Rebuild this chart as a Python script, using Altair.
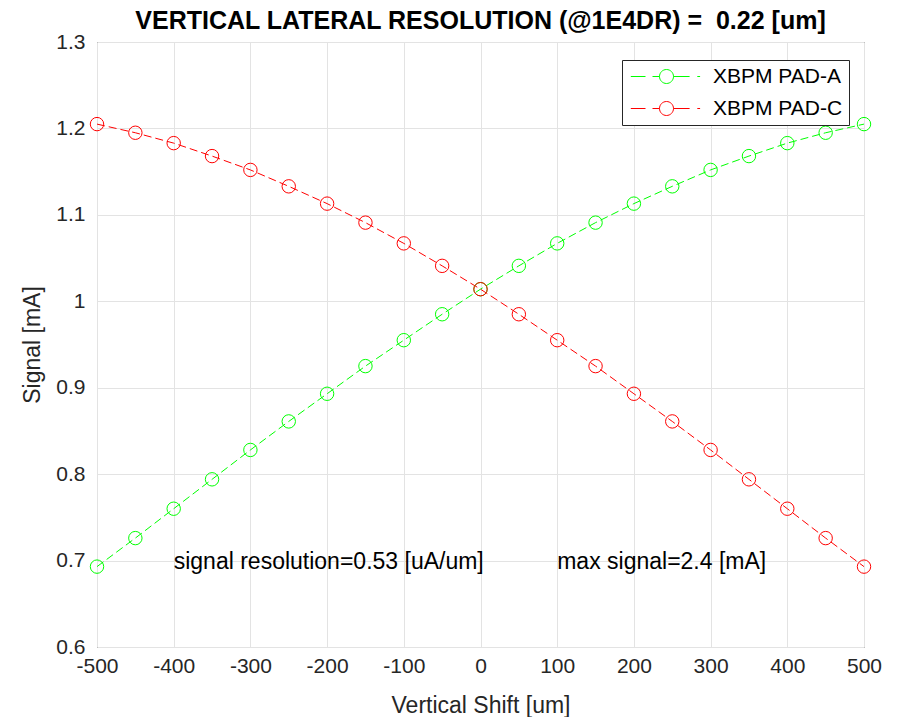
import altair as alt
import pandas as pd

shift = [-500, -450, -400, -350, -300, -250, -200, -150, -100, -50, 0,
         50, 100, 150, 200, 250, 300, 350, 400, 450, 500]
pad_a = [0.693, 0.726, 0.760, 0.794, 0.828, 0.861, 0.893, 0.925, 0.955, 0.985, 1.014,
         1.041, 1.067, 1.091, 1.113, 1.133, 1.152, 1.168, 1.183, 1.195, 1.205]
pad_c = [1.205, 1.195, 1.183, 1.168, 1.152, 1.133, 1.113, 1.091, 1.067, 1.041, 1.014,
         0.985, 0.955, 0.925, 0.893, 0.861, 0.828, 0.794, 0.760, 0.726, 0.693]
series_names = ["XBPM PAD-A", "XBPM PAD-C"]
series_colors = ["#00ff00", "#ff0000"]

note_x = [-400, 100]
note_y = [0.698, 0.698]
note_text = ["signal resolution=0.53 [uA/um]", "max signal=2.4 [mA]"]

x_ticks = list(range(-500, 501, 100))
y_ticks = [0.6, 0.7, 0.8, 0.9, 1.0, 1.1, 1.2, 1.3]

rows = []
for name, vals in zip(series_names, [pad_a, pad_c]):
    for s, v in zip(shift, vals):
        rows.append({"shift": s, "signal": v, "series": name})
df = pd.DataFrame(rows)
notes = pd.DataFrame({"x": note_x, "y": note_y, "text": note_text})

FONT = "Liberation Sans"
legend_path = ("M-5.1,0H-3M-2,0H-1M1,0H3.3M4.4,0H4.8"
               "M1,0A1,1,0,1,1,-1,0A1,1,0,1,1,1,0")

legend = alt.Legend(
    title=None, orient="none", legendX=525, legendY=18,
    symbolType=legend_path, symbolSize=196, symbolStrokeWidth=1,
    symbolOffset=28, labelOffset=36, labelFontSize=21, labelFont=FONT,
    labelColor="#000000", padding=6, rowPadding=10,
    strokeColor="#262626", fillColor="#ffffff", labelLimit=300,
)

xenc = alt.X("shift:Q", title="Vertical Shift [um]",
             scale=alt.Scale(domain=[-500, 500], nice=False),
             axis=alt.Axis(values=x_ticks, labelExpr="'' + datum.value",
                           labelFlush=False, labelPadding=8, titlePadding=18))
yenc = alt.Y("signal:Q", title="Signal [mA]",
             scale=alt.Scale(domain=[0.6, 1.3], nice=False, zero=False),
             axis=alt.Axis(values=y_ticks, format="~g", labelFlush=False,
                           labelPadding=12, titlePadding=11))
color = alt.Color("series:N", scale=alt.Scale(domain=series_names, range=series_colors),
                  legend=legend)

base = alt.Chart(df)
lines = base.mark_line(strokeDash=[8, 4], strokeWidth=1).encode(
    x=xenc, y=yenc, color=color, detail="series:N")
points = base.mark_point(filled=False, size=180, strokeWidth=1, opacity=1).encode(
    x=xenc, y=yenc, color=color)
texts = alt.Chart(notes).mark_text(align="left", baseline="middle", fontSize=23,
                                   font=FONT, color="#000000").encode(
    x=alt.X("x:Q"), y=alt.Y("y:Q"), text="text:N")

chart = alt.layer(lines, points, texts).properties(
    width=767, height=605,
    autosize=alt.AutoSizeParams(type="none"),
    padding={"left": 89, "top": 34, "right": 25, "bottom": 70},
    title=alt.TitleParams("VERTICAL LATERAL RESOLUTION (@1E4DR) =\u00a0 0.22 [um]",
                          font=FONT, fontSize=25, fontWeight="bold",
                          color="#000000", anchor="middle", frame="group",
                          offset=10, dy=13),
).configure_view(
    stroke="#262626", strokeWidth=1
).configure_axis(
    domain=False, ticks=False, grid=True, gridColor="#e3e3e3", gridWidth=1,
    labelFont=FONT, labelFontSize=21, labelColor="#262626",
    titleFont=FONT, titleFontSize=23, titleFontWeight="normal", titleColor="#262626",
)

chart.save("out.html", embed_options={"renderer": "svg", "actions": False})
